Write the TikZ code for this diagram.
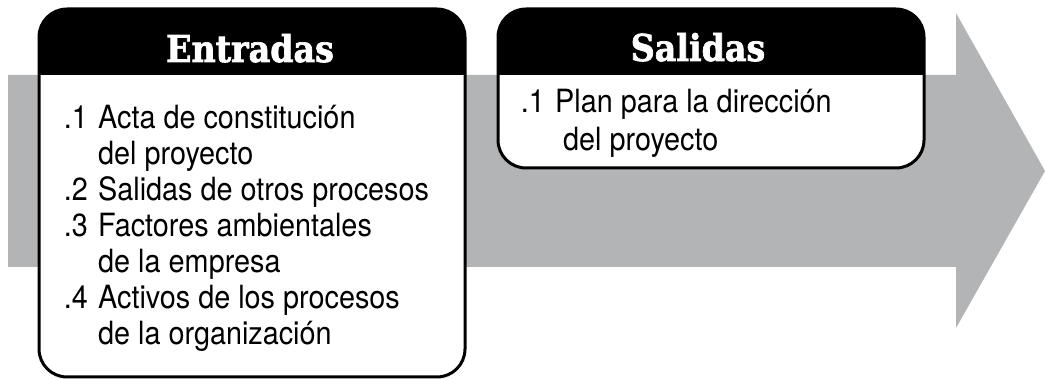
\documentclass[tikz,border=0pt]{standalone}
\usepackage{fontspec}
\newfontfamily\bodyfont{TeX Gyre Heros}[FakeStretch=0.9]
\newfontfamily\headfont{DejaVu Serif}[FakeStretch=0.9,
  BoldFeatures={FakeStretch=0.9,FakeBold=1.8}]
\usepackage{tikz}
\definecolor{arrowgray}{RGB}{178,180,182}
\tikzset{
  flowarrow/.style={fill=arrowgray},
  boxframe/.style={draw=black, line width=3pt, rounded corners=28pt},
  boxclip/.style={rounded corners=28pt},
  headtext/.style={font=\headfont\bfseries\fontsize{37}{37}\selectfont,
                   text=white, anchor=base, inner sep=0pt},
  itemtext/.style={font=\bodyfont\fontsize{32}{32}\selectfont,
                   anchor=base west, inner sep=0pt},
  itemnum/.style={itemtext, anchor=base east},
}

\begin{document}
\begin{tikzpicture}[x=1pt,y=-1pt]
  \useasboundingbox (0,0) rectangle (1045,379);

  % Process arrow
  \fill[flowarrow] (8,75) -- (956,75) -- (956,13) -- (1045,171)
    -- (956,328) -- (956,267) -- (8,267) -- cycle;

  % Entradas box
  \fill[white,boxclip] (39,9) rectangle (465,377);
  \begin{scope}
    \clip[boxclip] (39,9) rectangle (465,377);
    \fill[black] (39,9) rectangle (465,75);
  \end{scope}
  \draw[boxframe] (39,9) rectangle (465,377);
  \node[headtext] (inhead) at (250,62) {Entradas};

  \foreach \y/\n/\t [count=\i] in {129/.1/Acta de constitución,
      165//del proyecto, 201/.2/Salidas de otros procesos,
      237/.3/Factores ambientales, 273//de la empresa,
      309/.4/Activos de los procesos, 345//de la organización}{
    \node[itemnum] (innum\i) at (88,\y) {\n};
    \node[itemtext] (initem\i) at (98,\y) {\t};
  }

  % Salidas box
  \fill[white,boxclip] (498,9) rectangle (924,168);
  \begin{scope}
    \clip[boxclip] (498,9) rectangle (924,168);
    \fill[black] (498,9) rectangle (924,75);
  \end{scope}
  \draw[boxframe] (498,9) rectangle (924,168);
  \node[headtext] (outhead) at (698,61) {Salidas};

  \node[itemnum] (outnum1) at (545,113) {.1};
  \node[itemtext] (outitem1) at (555,113) {Plan para la dirección};
  \node[itemtext] (outitem2) at (563,151) {del proyecto};
\end{tikzpicture}
\end{document}
